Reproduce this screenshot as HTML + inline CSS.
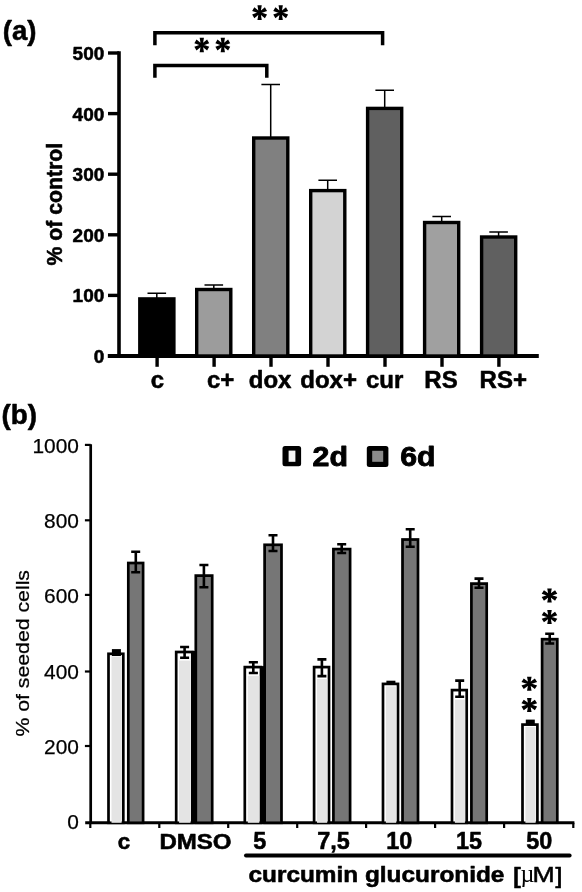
<!DOCTYPE html><html><head><meta charset="utf-8"><title>Figure</title><style>html,body{margin:0;padding:0;background:#fff}body{width:582px;height:892px;overflow:hidden}svg{display:block}text{font-family:"Liberation Sans",sans-serif;fill:#000}.b{font-weight:bold;stroke:#000;stroke-width:.55px;stroke-linejoin:round}.n{stroke:#000;stroke-width:.25px}</style></head><body>
<svg width="582" height="892" viewBox="0 0 582 892">
<defs><filter id="bl" x="-5%" y="-5%" width="110%" height="110%"><feGaussianBlur stdDeviation="0.45"/></filter><filter id="bl2" x="-20%" y="-20%" width="140%" height="140%"><feGaussianBlur stdDeviation="0.7"/></filter>
</defs>
<rect width="582" height="892" fill="#fff"/>
<g filter="url(#bl)">
<text class="b" x="2.8" y="40.0" font-size="27.6">(a)</text>
<path d="M119.0,51.3V356.0" stroke="#000" stroke-width="3.6" fill="none"/>
<path d="M107.8,356.0H538.8" stroke="#000" stroke-width="3.8" fill="none"/>
<path d="M108,356.0H119.0" stroke="#000" stroke-width="3.4"/>
<text class="b" x="104.3" y="363.0" font-size="19" text-anchor="end">0</text>
<path d="M108,295.4H119.0" stroke="#000" stroke-width="3.4"/>
<text class="b" x="104.3" y="302.4" font-size="19" text-anchor="end">100</text>
<path d="M108,234.8H119.0" stroke="#000" stroke-width="3.4"/>
<text class="b" x="104.3" y="241.8" font-size="19" text-anchor="end">200</text>
<path d="M108,174.2H119.0" stroke="#000" stroke-width="3.4"/>
<text class="b" x="104.3" y="181.2" font-size="19" text-anchor="end">300</text>
<path d="M108,113.6H119.0" stroke="#000" stroke-width="3.4"/>
<text class="b" x="104.3" y="120.6" font-size="19" text-anchor="end">400</text>
<path d="M108,53.0H119.0" stroke="#000" stroke-width="3.4"/>
<text class="b" x="104.3" y="60.0" font-size="19" text-anchor="end">500</text>
<text class="b" font-size="22.3" textLength="122.5" lengthAdjust="spacingAndGlyphs" transform="translate(62.2,265.4) rotate(-90)">% of control</text>
<path d="M156.8,299.2V293.3M147.5,293.3H166.1" stroke="#000" stroke-width="1.5" fill="none"/>
<rect x="139.8" y="298.9" width="34.1" height="57.1" fill="#000" stroke="#000" stroke-width="3.4"/>
<path d="M157.1,356.0V366.8" stroke="#000" stroke-width="3.4"/>
<text class="b" x="157.5" y="388.0" font-size="24" text-anchor="middle">c</text>
<path d="M213.8,289.8V284.9M204.5,284.9H223.1" stroke="#000" stroke-width="1.5" fill="none"/>
<rect x="196.7" y="289.5" width="34.1" height="66.5" fill="#9c9c9c" stroke="#000" stroke-width="3.4"/>
<path d="M214.1,356.0V366.8" stroke="#000" stroke-width="3.4"/>
<text class="b" x="220.7" y="388.0" font-size="24" text-anchor="middle">c+</text>
<path d="M270.7,138.3V84.4M261.4,84.4H280.0" stroke="#000" stroke-width="1.5" fill="none"/>
<rect x="253.7" y="138.0" width="34.1" height="218.0" fill="#808080" stroke="#000" stroke-width="3.4"/>
<path d="M271.0,356.0V366.8" stroke="#000" stroke-width="3.4"/>
<text class="b" x="270.1" y="388.0" font-size="24" text-anchor="middle">dox</text>
<path d="M327.7,190.9V180.3M318.4,180.3H337.0" stroke="#000" stroke-width="1.5" fill="none"/>
<rect x="310.7" y="190.6" width="34.1" height="165.4" fill="#d3d3d3" stroke="#000" stroke-width="3.4"/>
<path d="M328.0,356.0V366.8" stroke="#000" stroke-width="3.4"/>
<text class="b" x="328.6" y="388.0" font-size="24" text-anchor="middle">dox+</text>
<path d="M384.7,108.7V90.2M375.4,90.2H394.0" stroke="#000" stroke-width="1.5" fill="none"/>
<rect x="367.6" y="108.4" width="34.1" height="247.6" fill="#606060" stroke="#000" stroke-width="3.4"/>
<path d="M385.0,356.0V366.8" stroke="#000" stroke-width="3.4"/>
<text class="b" x="384.6" y="388.0" font-size="24" text-anchor="middle">cur</text>
<path d="M441.7,222.8V216.6M432.4,216.6H451.0" stroke="#000" stroke-width="1.5" fill="none"/>
<rect x="424.6" y="222.5" width="34.1" height="133.5" fill="#a0a0a0" stroke="#000" stroke-width="3.4"/>
<path d="M442.0,356.0V366.8" stroke="#000" stroke-width="3.4"/>
<text class="b" x="441.0" y="388.0" font-size="24" text-anchor="middle">RS</text>
<path d="M498.6,237.3V232.0M489.3,232.0H507.9" stroke="#000" stroke-width="1.5" fill="none"/>
<rect x="481.6" y="237.0" width="34.1" height="119.0" fill="#606060" stroke="#000" stroke-width="3.4"/>
<path d="M498.9,356.0V366.8" stroke="#000" stroke-width="3.4"/>
<text class="b" x="503.3" y="388.0" font-size="24" text-anchor="middle">RS+</text>
<path d="M154.9,45.3V32.7H382.6V45.3" stroke="#000" stroke-width="3.5" fill="none"/>
<path d="M154.9,77.7V65.4H266.8V77.7" stroke="#000" stroke-width="3.5" fill="none"/>
<g transform="translate(259.6,12.7)"><path d="M-0.95,0.00L-2.15,-7.35L2.15,-7.35L0.95,0.00ZM-0.48,-0.82L5.29,-5.54L7.44,-1.81L0.48,0.82ZM0.47,-0.82L7.44,1.81L5.29,5.54L-0.47,0.82ZM0.95,-0.00L2.15,7.35L-2.15,7.35L-0.95,0.00ZM0.48,0.82L-5.29,5.54L-7.44,1.81L-0.48,-0.82ZM-0.48,0.82L-7.44,-1.81L-5.29,-5.54L0.48,-0.82Z" fill="#000"/><circle r="1.6" fill="#000"/></g>
<g transform="translate(280.7,12.7)"><path d="M-0.95,0.00L-2.15,-7.35L2.15,-7.35L0.95,0.00ZM-0.48,-0.82L5.29,-5.54L7.44,-1.81L0.48,0.82ZM0.47,-0.82L7.44,1.81L5.29,5.54L-0.47,0.82ZM0.95,-0.00L2.15,7.35L-2.15,7.35L-0.95,0.00ZM0.48,0.82L-5.29,5.54L-7.44,1.81L-0.48,-0.82ZM-0.48,0.82L-7.44,-1.81L-5.29,-5.54L0.48,-0.82Z" fill="#000"/><circle r="1.6" fill="#000"/></g>
<g transform="translate(201.8,45.0)"><path d="M-0.95,0.00L-2.15,-7.35L2.15,-7.35L0.95,0.00ZM-0.48,-0.82L5.29,-5.54L7.44,-1.81L0.48,0.82ZM0.47,-0.82L7.44,1.81L5.29,5.54L-0.47,0.82ZM0.95,-0.00L2.15,7.35L-2.15,7.35L-0.95,0.00ZM0.48,0.82L-5.29,5.54L-7.44,1.81L-0.48,-0.82ZM-0.48,0.82L-7.44,-1.81L-5.29,-5.54L0.48,-0.82Z" fill="#000"/><circle r="1.6" fill="#000"/></g>
<g transform="translate(222.8,45.0)"><path d="M-0.95,0.00L-2.15,-7.35L2.15,-7.35L0.95,0.00ZM-0.48,-0.82L5.29,-5.54L7.44,-1.81L0.48,0.82ZM0.47,-0.82L7.44,1.81L5.29,5.54L-0.47,0.82ZM0.95,-0.00L2.15,7.35L-2.15,7.35L-0.95,0.00ZM0.48,0.82L-5.29,5.54L-7.44,1.81L-0.48,-0.82ZM-0.48,0.82L-7.44,-1.81L-5.29,-5.54L0.48,-0.82Z" fill="#000"/><circle r="1.6" fill="#000"/></g>
<text class="b" x="1.6" y="423.6" font-size="27.8">(b)</text>
<path d="M90.7,444.2V823.8" stroke="#000" stroke-width="2.7" fill="none"/>
<path d="M85.2,822.8H574.4" stroke="#000" stroke-width="3.1" fill="none"/>
<text class="n" x="78.9" y="829.1" font-size="20.9" text-anchor="end">0</text>
<path d="M84.9,746.0H90.7" stroke="#000" stroke-width="2.2"/>
<text class="n" x="78.9" y="753.5" font-size="20.9" text-anchor="end">200</text>
<path d="M84.9,671.5H90.7" stroke="#000" stroke-width="2.2"/>
<text class="n" x="78.9" y="679.3" font-size="20.9" text-anchor="end">400</text>
<path d="M84.9,594.9H90.7" stroke="#000" stroke-width="2.2"/>
<text class="n" x="78.9" y="603.0" font-size="20.9" text-anchor="end">600</text>
<path d="M84.9,520.3H90.7" stroke="#000" stroke-width="2.2"/>
<text class="n" x="78.9" y="528.1" font-size="20.9" text-anchor="end">800</text>
<path d="M84.9,444.9H90.7" stroke="#000" stroke-width="2.2"/>
<text class="n" x="78.9" y="453.3" font-size="20.9" text-anchor="end">1000</text>
<text class="n" font-size="18" textLength="166.6" lengthAdjust="spacingAndGlyphs" transform="translate(29.4,736.6) rotate(-90)">% of seeded cells</text>
<path d="M90.3,822.8V828.0" stroke="#000" stroke-width="2.2"/>
<rect x="108.5" y="653.8" width="14.8" height="169.0" fill="#fff" stroke="#000" stroke-width="2.7"/>
<rect x="111.5" y="656.6" width="10.1" height="166.2" fill="#e4e4e4"/>
<rect x="111.9" y="649.1" width="9" height="6.9" fill="#000"/>
<rect x="128.3" y="563.0" width="14.8" height="259.8" fill="#767676" stroke="#000" stroke-width="2.7"/>
<path d="M135.8,551.7V572.3M131.2,551.7H140.2M131.2,572.3H140.2" stroke="#000" stroke-width="2.6" fill="none"/>
<text class="b" x="123.9" y="848.8" font-size="22.3" text-anchor="middle">c</text>
<path d="M159.3,822.8V828.0" stroke="#000" stroke-width="2.2"/>
<rect x="176.2" y="652.0" width="16.1" height="170.8" fill="#fff" stroke="#000" stroke-width="2.7"/>
<rect x="179.1" y="660.6" width="11.4" height="162.2" fill="#e4e4e4"/>
<rect x="192.6" y="650.9" width="2.8" height="172.2" fill="#000"/>
<path d="M184.6,647.0V657.8M180.1,647.0H189.1M180.1,657.8H189.1" stroke="#000" stroke-width="2.6" fill="none"/>
<rect x="195.8" y="575.6" width="16.4" height="247.2" fill="#767676" stroke="#000" stroke-width="2.7"/>
<path d="M203.9,565.0V587.3M199.4,565.0H208.4M199.4,587.3H208.4" stroke="#000" stroke-width="2.6" fill="none"/>
<text class="b" x="159.4" y="848.6" font-size="21.3" textLength="72.2" lengthAdjust="spacingAndGlyphs">DMSO</text>
<path d="M228.2,822.8V828.0" stroke="#000" stroke-width="2.2"/>
<rect x="244.8" y="667.1" width="16.2" height="155.7" fill="#fff" stroke="#000" stroke-width="2.7"/>
<rect x="247.8" y="675.8" width="11.5" height="147.0" fill="#e4e4e4"/>
<rect x="261.4" y="666.1" width="2.8" height="157.0" fill="#000"/>
<path d="M253.3,662.2V673.0M248.8,662.2H257.9M248.8,673.0H257.9" stroke="#000" stroke-width="2.6" fill="none"/>
<rect x="264.6" y="544.8" width="16.9" height="278.0" fill="#767676" stroke="#000" stroke-width="2.7"/>
<path d="M273.0,535.2V551.0M268.5,535.2H277.5M268.5,551.0H277.5" stroke="#000" stroke-width="2.6" fill="none"/>
<text class="b" x="259.8" y="848.8" font-size="23.4" text-anchor="middle">5</text>
<path d="M297.2,822.8V828.0" stroke="#000" stroke-width="2.2"/>
<rect x="314.1" y="667.1" width="14.9" height="155.7" fill="#fff" stroke="#000" stroke-width="2.7"/>
<rect x="317.0" y="678.9" width="10.2" height="143.9" fill="#e4e4e4"/>
<path d="M321.9,659.4V676.1M317.4,659.4H326.4M317.4,676.1H326.4" stroke="#000" stroke-width="2.6" fill="none"/>
<rect x="333.4" y="549.1" width="16.7" height="273.6" fill="#767676" stroke="#000" stroke-width="2.7"/>
<path d="M341.7,544.3V553.0M337.2,544.3H346.2M337.2,553.0H346.2" stroke="#000" stroke-width="2.6" fill="none"/>
<text class="b" x="333.4" y="848.8" font-size="23.4" text-anchor="middle">7,5</text>
<path d="M366.1,822.8V828.0" stroke="#000" stroke-width="2.2"/>
<rect x="383.0" y="683.9" width="15.0" height="138.9" fill="#fff" stroke="#000" stroke-width="2.7"/>
<rect x="385.9" y="686.4" width="10.3" height="136.4" fill="#e4e4e4"/>
<rect x="386.4" y="680.7" width="9" height="2.3" fill="#000"/>
<rect x="402.5" y="539.5" width="15.5" height="283.3" fill="#767676" stroke="#000" stroke-width="2.7"/>
<path d="M410.2,529.3V546.8M405.7,529.3H414.7M405.7,546.8H414.7" stroke="#000" stroke-width="2.6" fill="none"/>
<text class="b" x="399.3" y="848.8" font-size="23.4" text-anchor="middle">10</text>
<path d="M435.1,822.8V828.0" stroke="#000" stroke-width="2.2"/>
<rect x="452.0" y="690.1" width="14.7" height="132.7" fill="#fff" stroke="#000" stroke-width="2.7"/>
<rect x="454.9" y="699.6" width="10.0" height="123.2" fill="#e4e4e4"/>
<path d="M459.7,680.6V696.8M455.2,680.6H464.2M455.2,696.8H464.2" stroke="#000" stroke-width="2.6" fill="none"/>
<rect x="471.4" y="583.6" width="15.3" height="239.2" fill="#767676" stroke="#000" stroke-width="2.7"/>
<path d="M479.0,578.6V587.8M474.5,578.6H483.5M474.5,587.8H483.5" stroke="#000" stroke-width="2.6" fill="none"/>
<text class="b" x="469.0" y="848.8" font-size="23.4" text-anchor="middle">15</text>
<path d="M504.1,822.8V828.0" stroke="#000" stroke-width="2.2"/>
<rect x="522.5" y="724.6" width="14.9" height="98.2" fill="#fff" stroke="#000" stroke-width="2.7"/>
<rect x="525.4" y="727.1" width="10.2" height="95.7" fill="#e4e4e4"/>
<rect x="525.8" y="719.6" width="9" height="4.7" fill="#000"/>
<rect x="542.1" y="639.2" width="15.2" height="183.5" fill="#767676" stroke="#000" stroke-width="2.7"/>
<path d="M549.7,633.8V643.5M545.2,633.8H554.2M545.2,643.5H554.2" stroke="#000" stroke-width="2.6" fill="none"/>
<text class="b" x="539.3" y="848.8" font-size="23.4" text-anchor="middle">50</text>
<path d="M573.3,822.8V828.0" stroke="#000" stroke-width="2.2"/>
<path d="M246,855.5H569.6" stroke="#000" stroke-width="4" stroke-linecap="round"/>
<text class="b" x="248.5" y="882" font-size="22" textLength="255.9" lengthAdjust="spacingAndGlyphs">curcumin glucuronide</text>
<text class="b" x="513.2" y="882.6" font-size="22" textLength="7.6" lengthAdjust="spacingAndGlyphs">[</text>
<text x="520.4" y="882.3" font-size="25.5" font-family="Liberation Serif" textLength="13.9" lengthAdjust="spacingAndGlyphs" style="font-family:'Liberation Serif',serif">µ</text>
<text class="n" x="532.5" y="882.4" font-size="22" textLength="22.2" lengthAdjust="spacingAndGlyphs" style="stroke-width:.5px">M</text>
<text class="n" x="555.5" y="882.6" font-size="22" textLength="6.8" lengthAdjust="spacingAndGlyphs" style="stroke-width:.7px">]</text>
<g filter="url(#bl2)"><rect x="282.5" y="446" width="18.6" height="20.2" rx="2.5" fill="#000"/><rect x="288.6" y="450.6" width="6.8" height="11.2" fill="#f4f4f4"/><rect x="366.8" y="446" width="21.6" height="21.1" rx="2.5" fill="#000"/><rect x="372.2" y="450.8" width="11" height="11" fill="#8a8a8a"/></g>
<text class="b" x="312.6" y="465.8" font-size="28" textLength="35.4" lengthAdjust="spacingAndGlyphs" style="stroke-width:.9px">2d</text>
<text class="b" x="400.2" y="465.8" font-size="28" textLength="35.2" lengthAdjust="spacingAndGlyphs" style="stroke-width:.9px">6d</text>
<g transform="translate(549.5,595.4) scale(1.05,0.95)"><path d="M-0.95,0.00L-2.15,-7.35L2.15,-7.35L0.95,0.00ZM-0.48,-0.82L5.29,-5.54L7.44,-1.81L0.48,0.82ZM0.47,-0.82L7.44,1.81L5.29,5.54L-0.47,0.82ZM0.95,-0.00L2.15,7.35L-2.15,7.35L-0.95,0.00ZM0.48,0.82L-5.29,5.54L-7.44,1.81L-0.48,-0.82ZM-0.48,0.82L-7.44,-1.81L-5.29,-5.54L0.48,-0.82Z" fill="#000"/><circle r="1.6" fill="#000"/></g>
<g transform="translate(549.5,617.0) scale(1.05,0.95)"><path d="M-0.95,0.00L-2.15,-7.35L2.15,-7.35L0.95,0.00ZM-0.48,-0.82L5.29,-5.54L7.44,-1.81L0.48,0.82ZM0.47,-0.82L7.44,1.81L5.29,5.54L-0.47,0.82ZM0.95,-0.00L2.15,7.35L-2.15,7.35L-0.95,0.00ZM0.48,0.82L-5.29,5.54L-7.44,1.81L-0.48,-0.82ZM-0.48,0.82L-7.44,-1.81L-5.29,-5.54L0.48,-0.82Z" fill="#000"/><circle r="1.6" fill="#000"/></g>
<g transform="translate(529.3,683.8) scale(1.05,0.95)"><path d="M-0.95,0.00L-2.15,-7.35L2.15,-7.35L0.95,0.00ZM-0.48,-0.82L5.29,-5.54L7.44,-1.81L0.48,0.82ZM0.47,-0.82L7.44,1.81L5.29,5.54L-0.47,0.82ZM0.95,-0.00L2.15,7.35L-2.15,7.35L-0.95,0.00ZM0.48,0.82L-5.29,5.54L-7.44,1.81L-0.48,-0.82ZM-0.48,0.82L-7.44,-1.81L-5.29,-5.54L0.48,-0.82Z" fill="#000"/><circle r="1.6" fill="#000"/></g>
<g transform="translate(529.3,704.9) scale(1.05,0.95)"><path d="M-0.95,0.00L-2.15,-7.35L2.15,-7.35L0.95,0.00ZM-0.48,-0.82L5.29,-5.54L7.44,-1.81L0.48,0.82ZM0.47,-0.82L7.44,1.81L5.29,5.54L-0.47,0.82ZM0.95,-0.00L2.15,7.35L-2.15,7.35L-0.95,0.00ZM0.48,0.82L-5.29,5.54L-7.44,1.81L-0.48,-0.82ZM-0.48,0.82L-7.44,-1.81L-5.29,-5.54L0.48,-0.82Z" fill="#000"/><circle r="1.6" fill="#000"/></g>
</g></svg></body></html>
